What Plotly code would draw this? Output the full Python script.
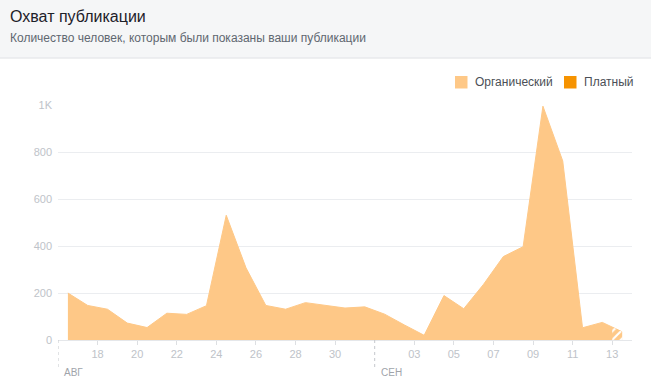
import numpy as np
import pandas as pd
import plotly.graph_objects as go

# ---------------- data ----------------
day_points = pd.date_range("2023-08-16 12:00", periods=29, freq="D")
organic = [200, 147, 131, 72, 53, 114, 109, 146, 531, 307, 147, 131, 159, 149, 136, 141,
           110, 64, 20, 189, 133, 237, 355, 397, 995, 762, 52, 75, 35]
paid = [0] * 29

tick_dates = ["2023-08-18", "2023-08-20", "2023-08-22", "2023-08-24", "2023-08-26",
              "2023-08-28", "2023-08-30", "2023-09-03", "2023-09-05", "2023-09-07",
              "2023-09-09", "2023-09-11", "2023-09-13"]
tick_labels = ["18", "20", "22", "24", "26", "28", "30", "03", "05", "07", "09", "11", "13"]
y_tickvals = [0, 200, 400, 600, 800, 1000]
y_ticklabels = ["0", "200", "400", "600", "800", "1K"]
month_starts = ["2023-08-16", "2023-09-01"]
month_labels = ["АВГ", "СЕН"]
series_names = ["Органический", "Платный"]
incomplete_from = "2023-09-13"   # last (incomplete) day is hatched
x_range = ["2023-08-16", "2023-09-14"]

title = "Охват публикации"
subtitle = "Количество человек, которым были показаны ваши публикации"

# ---------------- style ----------------
C_ORG = "#fec887"
C_PAID = "#f69300"
FONT = "Liberation Sans, Arial, sans-serif"
W, H = 651, 383
L, R, T, B = 58, 19, 105, 43
PW, PH = W - L - R, H - T - B


def px_x(px):
    return (px - L) / PW


def px_y(py):
    return (H - B - py) / PH


fig = go.Figure()

fig.add_trace(go.Scatter(
    x=day_points, y=organic, mode="lines", fill="tozeroy",
    fillcolor=C_ORG, line=dict(color=C_ORG, width=1),
    name=series_names[0], showlegend=False, hoverinfo="skip"))

fig.add_trace(go.Scatter(
    x=day_points, y=paid, mode="lines", fill="tozeroy",
    fillcolor=C_PAID, line=dict(color=C_PAID, width=0),
    name=series_names[1], showlegend=False, hoverinfo="skip"))

# hatched incomplete segment
ts = day_points.astype("int64").to_numpy()
t0 = pd.Timestamp(incomplete_from).value
y0 = float(np.interp(t0, ts, organic))
fig.add_trace(go.Scatter(
    x=[pd.Timestamp(incomplete_from), day_points[-1]], y=[y0, organic[-1]],
    mode="lines", fill="tozeroy", line=dict(color=C_ORG, width=0),
    fillpattern=dict(shape="/", bgcolor=C_ORG, fgcolor="white", size=6,
                     solidity=0.35, fillmode="replace"),
    showlegend=False, hoverinfo="skip"))

shapes = []
annotations = []

# header band
shapes.append(dict(type="rect", xref="paper", yref="paper",
                   x0=px_x(-5), x1=px_x(W + 5), y0=px_y(57.5), y1=px_y(-5),
                   fillcolor="#f5f6f7", line=dict(width=0), layer="below"))
shapes.append(dict(type="line", xref="paper", yref="paper",
                   x0=px_x(-5), x1=px_x(W + 5), y0=px_y(58), y1=px_y(58),
                   line=dict(color="#dddfe2", width=1)))
annotations.append(dict(text=title, xref="paper", yref="paper",
                        x=px_x(8), y=px_y(17), xanchor="left", yanchor="middle",
                        showarrow=False, font=dict(family=FONT, size=16, color="#1d2129")))
annotations.append(dict(text=subtitle, xref="paper", yref="paper",
                        x=px_x(8), y=px_y(37.5), xanchor="left", yanchor="middle",
                        showarrow=False, font=dict(family=FONT, size=12, color="#606770")))

# month separators + labels
for d, lab in zip(month_starts, month_labels):
    shapes.append(dict(type="line", xref="x", yref="paper", x0=d, x1=d,
                       y0=0, y1=px_y(368), line=dict(color="#c4c7cc", width=1, dash="dot")))
    annotations.append(dict(text=lab, xref="x", yref="paper", x=d, y=px_y(372),
                            xanchor="left", yanchor="middle", xshift=4, showarrow=False,
                            font=dict(family=FONT, size=10, color="#a0a4aa")))

# legend (custom)
legend_items = [(455, 473, series_names[0], C_ORG), (564, 582, series_names[1], C_PAID)]
for sx, tx, name, col in legend_items:
    shapes.append(dict(type="rect", xref="paper", yref="paper",
                       x0=px_x(sx), x1=px_x(sx + 12.5), y0=px_y(76), y1=px_y(88.5),
                       fillcolor=col, line=dict(width=0)))
    annotations.append(dict(text=name, xref="paper", yref="paper", x=px_x(tx), y=px_y(82),
                            xanchor="left", yanchor="middle", showarrow=False,
                            font=dict(family=FONT, size=12, color="#4b4f56")))

fig.update_layout(
    width=W, height=H, autosize=False,
    margin=dict(l=L, r=R, t=T, b=B, pad=0),
    paper_bgcolor="white", plot_bgcolor="white",
    showlegend=False,
    shapes=shapes, annotations=annotations,
    font=dict(family=FONT),
    xaxis=dict(type="date", range=x_range, tickvals=tick_dates, ticktext=tick_labels,
               ticks="outside", ticklen=4, tickcolor="#dddfe2", showgrid=False,
               showline=True, linecolor="#e5e7ea", linewidth=1, zeroline=False,
               tickfont=dict(family=FONT, size=11, color="#bec3c9")),
    yaxis=dict(range=[0, 1000], tickvals=y_tickvals, ticktext=y_ticklabels,
               showgrid=True, gridcolor="#ebedf0", gridwidth=1, zeroline=False,
               showline=False, ticks="", ticklabelstandoff=5,
               tickfont=dict(family=FONT, size=11, color="#bec3c9")),
)

fig.write_html("out.html", config={"displayModeBar": False},
               post_script="document.body.style.margin='0px';document.body.style.overflow='hidden';")
